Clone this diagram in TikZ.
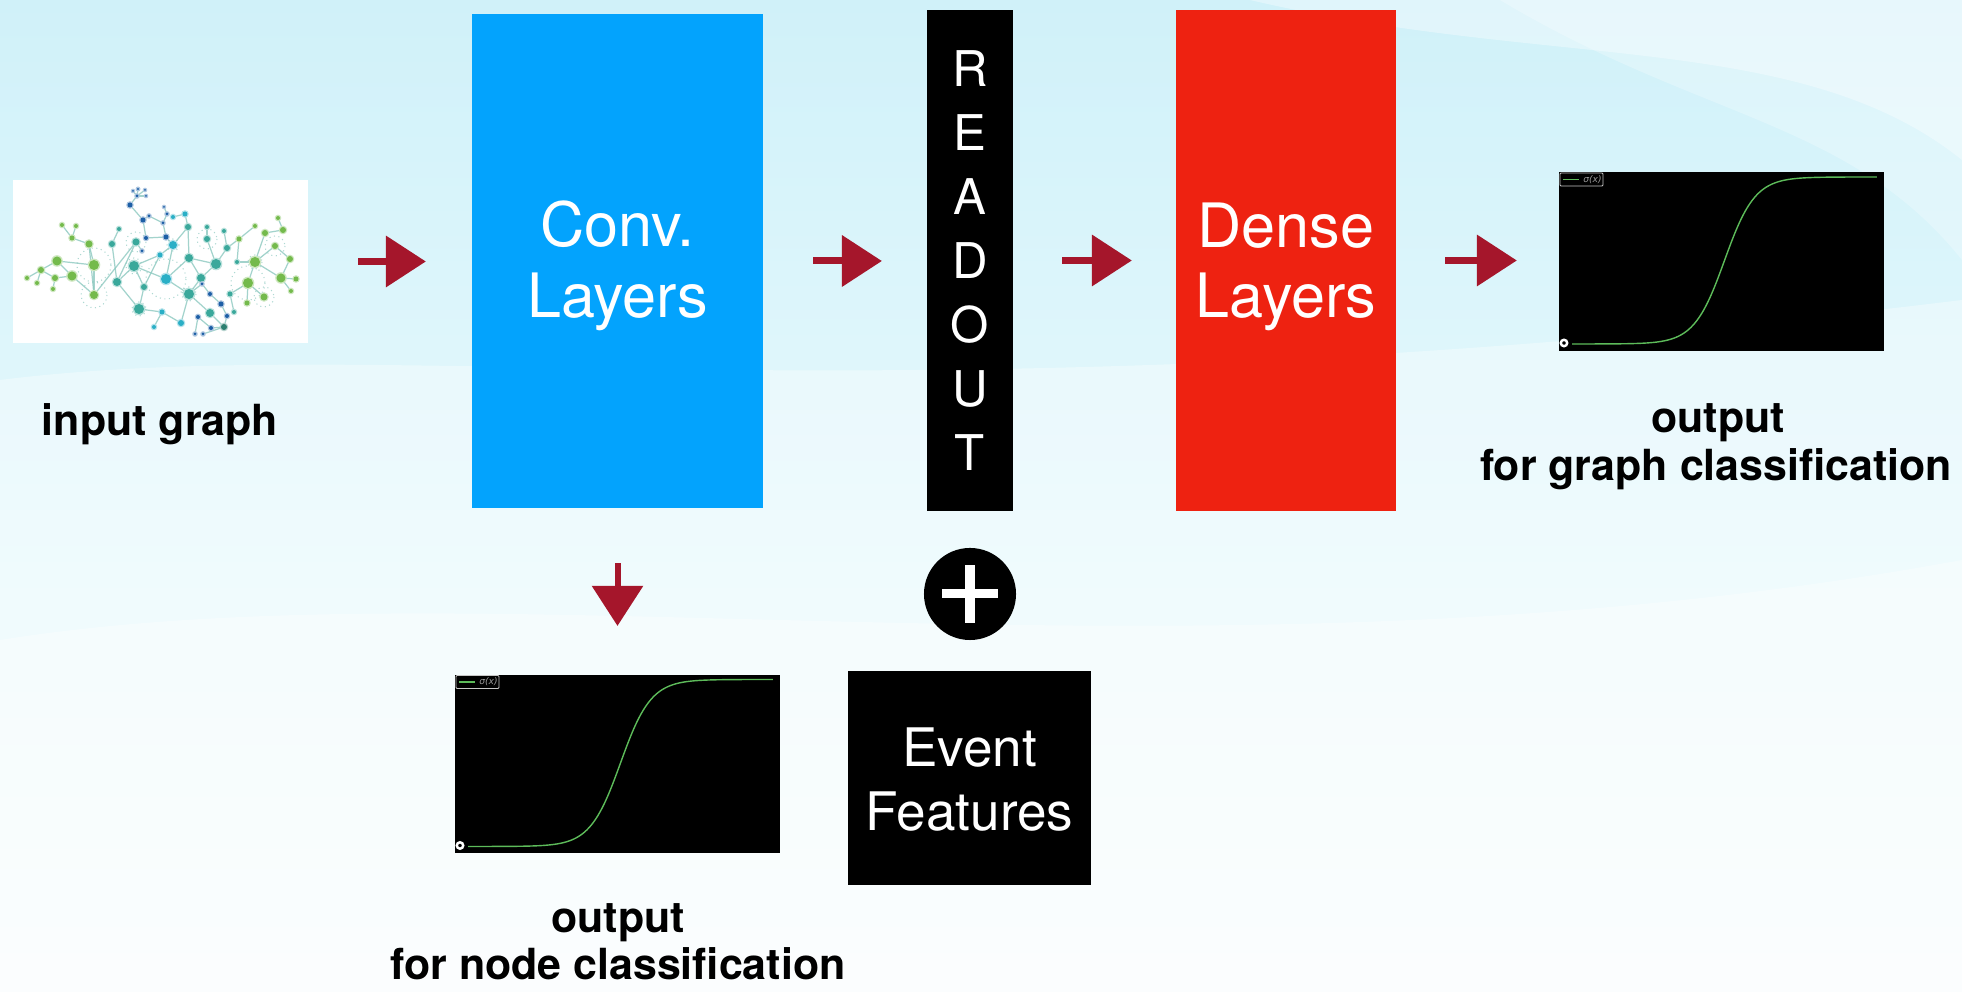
\documentclass[tikz,border=0pt]{standalone}
\usepackage{fontspec}
\setmainfont{TeX Gyre Heros}
\newfontfamily\legendfont{DejaVu Sans}
\usetikzlibrary{arrows.meta}

\definecolor{bgtop}{HTML}{D0F1F9}
\definecolor{bgmid}{HTML}{E4F8FC}
\definecolor{bgbot}{HTML}{F7FDFE}
\definecolor{convblue}{HTML}{03A3FD}
\definecolor{densered}{HTML}{EE2211}
\definecolor{arrowred}{HTML}{A5162B}
\definecolor{siggreen}{HTML}{5DBB5A}
\definecolor{gG}{HTML}{74BA4C}
\definecolor{gT}{HTML}{3AA89B}
\definecolor{gC}{HTML}{2AAFC6}
\definecolor{gB}{HTML}{1D5FA6}
\definecolor{gD}{HTML}{2B7F70}
\definecolor{gedge}{HTML}{8CC9C0}

\tikzset{
  block/.style={rectangle, inner sep=0pt, outer sep=0pt},
  blocktext/.style={text=white, font=\fontsize{17.4}{20}\selectfont, anchor=base, inner sep=0pt},
  readtext/.style={text=white, font=\fontsize{14}{16}\selectfont, anchor=base, inner sep=0pt},
  evtext/.style={text=white, font=\fontsize{15.1}{18}\selectfont, anchor=base, inner sep=0pt},
  caption/.style={text=black, font=\bfseries\fontsize{12.2}{13.7}\selectfont, anchor=base, inner sep=0pt},
  redarrow/.style={draw=arrowred, line width=0.07cm,
    -{Triangle[length=0.40cm, width=0.50cm]}},
  sigcurve/.style={draw=siggreen, line width=0.4pt},
  legendbox/.style={draw=gray!45, line width=0.25pt, rounded corners=0.3pt},
  legendtext/.style={text=gray!80, font=\legendfont\itshape\fontsize{2.6}{3}\selectfont, inner sep=0pt},
  gedgeline/.style={draw=gedge, line width=0.35pt, opacity=0.8},
  halo/.style={draw=gedge, line width=0.3pt, opacity=0.7, densely dotted},
  sigmoid/.pic={
    \draw[sigcurve] plot[domain=-10:10, samples=140, smooth]
      ({3+15.25*\x},{82.5-167/(1+exp(-max(\x,-9)))});
    \draw[legendbox] (-161.5,-88.5) rectangle (-118.5,-75.5);
    \draw[sigcurve] (-158.5,-82) -- (-143,-82);
    \node[legendtext] at (-129,-82) {σ(x)};
    \draw[white, line width=0.7pt] (-157.5,81.5) circle (3.2);
  }
}

\begin{document}
\begin{tikzpicture}[x=0.01cm, y=-0.01cm]
  \useasboundingbox (0,0) rectangle (1962,992);

  % soft background wash
  \shade[top color=bgtop, bottom color=bgbot, middle color=bgmid] (0,0) rectangle (1962,992);
  \fill[white, opacity=0.35] (0,380) .. controls (400,330) and (900,430) .. (1962,300)
        -- (1962,992) -- (0,992) -- cycle;
  \fill[white, opacity=0.35] (0,640) .. controls (500,560) and (1200,700) .. (1962,560)
        -- (1962,992) -- (0,992) -- cycle;
  \fill[white, opacity=0.35] (1250,0) .. controls (1550,70) and (1800,30) .. (1962,160)
        -- (1962,0) -- cycle;
  \fill[white, opacity=0.25] (1500,0) .. controls (1700,120) and (1850,120) .. (1962,260)
        -- (1962,0) -- cycle;

  % main blocks
  \node[block, fill=white, minimum width=2.95cm, minimum height=1.63cm] (img) at (160.5,261.5) {};
  \node[block, fill=convblue, minimum width=2.91cm, minimum height=4.94cm] (conv) at (617.5,261) {};
  \node[block, fill=black, minimum width=0.86cm, minimum height=5.01cm] (readout) at (970,260.5) {};
  \node[block, fill=densered, minimum width=2.20cm, minimum height=5.01cm] (dense) at (1286,260.5) {};
  \node[block, fill=black, minimum width=3.25cm, minimum height=1.79cm] (p1) at (1721.5,261.5) {};
  \node[block, fill=black, minimum width=3.25cm, minimum height=1.78cm] (p2) at (617.5,764) {};
  \node[block, fill=black, minimum width=2.43cm, minimum height=2.14cm] (event) at (969.5,778) {};
  \node[circle, fill=black, inner sep=0pt, minimum size=0.92cm] (plus) at (970,594) {};
  \fill[white] ([xshift=-0.275cm, yshift=-0.045cm]plus.center) rectangle ([xshift=0.275cm, yshift=0.045cm]plus.center);
  \fill[white] ([xshift=-0.05cm, yshift=-0.285cm]plus.center) rectangle ([xshift=0.05cm, yshift=0.285cm]plus.center);

  % block labels
  \node[blocktext] (convt1) at (617.5,247) {Conv.};
  \node[blocktext] (convt2) at (617.5,318) {Layers};
  \node[blocktext] (denset1) at (1286,248) {Dense};
  \node[blocktext] (denset2) at (1286,318) {Layers};
  \foreach \ch [count=\i from 0] in {R,E,A,D,O,U,T}
    \node[readtext] (rd\i) at (970,{87+64*\i}) {\ch};
  \node[evtext] (evt1) at (969.5,767) {Event};
  \node[evtext] (evt2) at (969.5,831) {Features};

  % captions
  \node[caption] (capin) at (160,436) {input graph};
  \node[caption] (capg1) at (1718,433) {output};
  \node[caption] (capg2) at (1716,481) {for graph classification};
  \node[caption] (capn1) at (618,933) {output};
  \node[caption] (capn2) at (618,980) {for node classification};

  % sigmoid outputs
  \pic at (p1.center) {sigmoid};
  \pic at (p2.center) {sigmoid};

  % flow arrows
  \draw[redarrow, shorten <=0.50cm, shorten >=0.46cm] (img.east) -- (img.east -| conv.west);
  \draw[redarrow, shorten <=0.50cm, shorten >=0.45cm] (conv.east) -- (conv.east -| readout.west);
  \draw[redarrow, shorten <=0.49cm, shorten >=0.44cm] (readout.east) -- (readout.east -| dense.west);
  \draw[redarrow, shorten <=0.49cm, shorten >=0.42cm] (dense.east) -- (dense.east -| p1.west);
  \draw[redarrow, line width=0.06cm, shorten <=0.55cm, shorten >=0.49cm] (conv.south) -- (conv.south |- p2.north);

  % network thumbnail
  \foreach \n/\x/\y in {
    g1/62/225, g2/76/226, g3/72/238, g4/89/244, g5/57/261, g6/41/270, g7/27/278, g8/37/283,
    g9/55/278, g10/53/289, g11/72/276, g12/94/265, g13/94/295, g14/112/244, g15/119/229,
    g16/136/242, g17/142/251, g18/117/282, g19/134/266, g20/144/287, g21/139/309,
    b1/138/189, b2/137/196, b3/130/205, b4/143/220, b5/146/238, b6/149/216, b7/163/223,
    b8/166/237, b9/167/214, b10/164/207, b11/133/191, b12/145/190, b13/146/196,
    c1/173/245, c2/160/255, c3/173/217, c4/185/214, c5/188/227, c6/207/227, c7/207/239,
    c8/166/279, c9/189/258, c10/216/264, c11/201/278, c12/189/294,
    d1/202/284, d2/210/294, d3/221/304, d4/227/316, d5/211/328, d6/224/327, d7/203/334,
    d8/195/334, d9/198/317, d10/210/313, t1/162/312, t2/181/323, t3/154/327,
    r1/227/248, r2/239/239, r3/224/231, r4/255/226, r5/237/262, r6/255/262, r7/248/283,
    r8/230/294, r9/247/303, r10/264/297, r11/265/233, r12/283/230, r13/278/218, r14/275/246,
    r15/290/259, r16/281/278, r17/296/279, r18/291/291, r19/234/312}
    \coordinate (\n) at (\x,\y);

  \foreach \a/\b in {
    g1/g3, g2/g3, g3/g4, g4/g12, g4/g13, g5/g6, g6/g7, g6/g8, g5/g11, g6/g9, g9/g10, g9/g11,
    g5/g12, g12/g13, g11/g13, g14/g15, g14/g18, g16/g13, g16/g18, g16/g17, g18/g19, g19/g20,
    g18/g21, g20/g21, g19/c8, g21/t1, b1/b2, b2/b3, b3/b4, b4/b5, b4/b6, b6/b7, b7/b8, b5/b8,
    b7/b9, b9/b10, b2/b11, b2/b12, b2/b13, b8/c1, c1/c2, c2/g20, c1/c8, c3/c4, c4/c5, c5/c9,
    c5/c1, c6/c7, c9/c8, c9/c10, c9/c11, c8/c12, c11/c12, c12/t2, t1/t2, t1/t3, c12/d1,
    d1/d2, d2/d3, d3/d4, d4/d6, d5/d6, d5/d9, d9/d8, d6/d7, c12/d10, d10/d6, c10/r1, r1/r3,
    r1/r2, r2/r4, r2/r5, r5/r6, r6/r7, r7/r8, r7/r9, r7/r10, r6/r11, r11/r12, r12/r13,
    r6/r14, r14/r15, r15/r16, r16/r17, r6/r16, r16/r18, r8/r19, c10/c11, g19/c2, c7/c10}
    \draw[gedgeline] (\a) -- (\b);

  \foreach \n/\r in {g12/17, g13/13, g16/10, g19/8, g21/7, c1/6, c7/10, c8/20, c12/7,
    r6/7, r7/17, r10/10, r14/10}
    \draw[halo] (\n) circle (\r);

  \foreach \n/\r/\c in {
    g1/2/gG, g2/2/gG, g3/2.5/gG, g4/3.5/gG, g5/4.5/gG, g6/3/gG, g7/2/gG, g8/2/gG, g9/3/gG,
    g10/2/gG, g11/4.5/gG, g12/5/gG, g13/4/gG, g14/3/gT, g15/2/gT, g16/3.5/gT, g17/1.5/gB,
    g18/4/gT, g19/5/gT, g20/3/gT, g21/5/gT,
    b1/1.2/gB, b2/1.5/gB, b3/2.5/gB, b4/2.5/gB, b5/2/gB, b6/1.5/gB, b7/1.5/gB, b8/2.5/gB,
    b9/1.5/gB, b10/1/gB, b11/1/gB, b12/1/gB, b13/1/gB,
    c1/4/gC, c2/2.5/gC, c3/2/gC, c4/2.5/gC, c5/3/gT, c6/2/gT, c7/3/gT, c8/5/gC, c9/4/gT,
    c10/5/gT, c11/4/gT, c12/5/gT,
    d1/1.5/gB, d2/2/gB, d3/2.5/gB, d4/2/gB, d5/2/gB, d6/3/gD, d7/1.5/gB, d8/1.5/gB,
    d9/2/gB, d10/4/gT, t1/2.5/gC, t2/3/gC, t3/2/gC,
    r1/3/gT, r2/2.5/gG, r3/2/gT, r4/2/gG, r5/2/gT, r6/5/gG, r7/5/gG, r8/2.5/gT, r9/2.5/gG,
    r10/3.5/gG, r11/3/gG, r12/3/gG, r13/2/gG, r14/3/gG, r15/3/gG, r16/4.5/gG, r17/2.5/gG,
    r18/2/gG, r19/2/gT}
  {
    \fill[\c!35] (\n) circle ({\r+1.3});
    \fill[\c] (\n) circle (\r);
  }
\end{tikzpicture}
\end{document}
